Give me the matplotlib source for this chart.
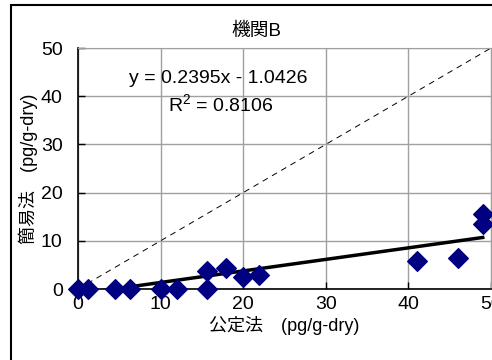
import numpy as np
import matplotlib
matplotlib.use("Agg")
import matplotlib.pyplot as plt
from matplotlib.patches import Rectangle

plt.rcParams['font.family'] = ['Liberation Sans', 'Noto Sans CJK JP', 'DejaVu Sans']

# 公定法 vs 簡易法 (pg/g-dry)
koutei = [0, 1.2, 4.5, 6.3, 10, 12, 15.6, 15.6, 17.9, 20, 21.9, 41, 46, 49, 49]
kani = [0, 0, 0, 0, 0, 0, 0, 3.7, 4.3, 2.5, 2.9, 5.8, 6.4, 15.5, 13.5]
slope = 0.2395
intercept = -1.0426
r2 = 0.8106

fig = plt.figure(figsize=(4.92, 3.6), dpi=100)
ax = fig.add_axes([78/492, 1-289/360, 413/492, 241/360])

# 外枠
fig.patches.append(Rectangle((11/492, -0.05), 1.2, 1-5/360+0.05,
                             transform=fig.transFigure, fill=False,
                             edgecolor='black', linewidth=1.5))

ax.plot([0, 50], [0, 50], color='black', linestyle=(0, (6, 5)), linewidth=0.7, zorder=2)
xt = np.array([0, max(koutei)])
ax.plot(xt, slope*xt + intercept, color='black', linewidth=2.5, zorder=3)
ax.scatter(koutei, kani, marker='D', s=100, color='#000080', zorder=4, clip_on=False)

ax.set_xlim(0, 50)
ax.set_ylim(0, 50)
ax.set_xticks(range(0, 51, 10))
ax.set_yticks(range(0, 51, 10))
ax.grid(True, color='#a0a0a0', linewidth=1)
ax.set_axisbelow(True)
ax.tick_params(axis='both', direction='in', length=5, width=1, labelsize=14)
ax.tick_params(axis='x', pad=5)
ax.tick_params(axis='y', pad=11)
for s in ['top', 'right']:
    ax.spines[s].set_color('#a0a0a0')
for s in ['left', 'bottom']:
    ax.spines[s].set_color('black')
    ax.spines[s].set_linewidth(1.2)

ax.set_xlabel('公定法\u3000(pg/g-dry)', fontsize=13, labelpad=2)
ax.set_ylabel('簡易法\u3000(pg/g-dry)', fontsize=13, labelpad=2)
fig.text(256/492, 1-31/360, '機関B', fontsize=13.5, ha='center', va='center')
ax.text(0.34, 0.875, 'y = %.4fx - %.4f' % (slope, -intercept), transform=ax.transAxes,
        fontsize=14, ha='center', va='center')
ax.text(0.345, 0.765, '$\\mathregular{R^2}$ = %.4f' % r2, transform=ax.transAxes,
        fontsize=14, ha='center', va='center')

plt.savefig("out.png", dpi=100)
